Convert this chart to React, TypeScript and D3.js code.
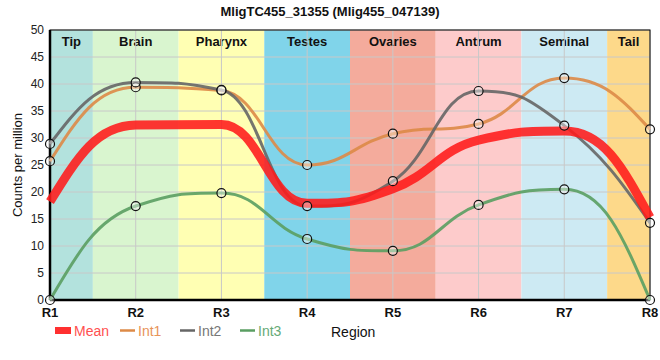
import * as d3 from "d3";

const regions = ["R1", "R2", "R3", "R4", "R5", "R6", "R7", "R8"];
const tissues = ["Tip", "Brain", "Pharynx", "Testes", "Ovaries", "Antrum", "Seminal", "Tail"];
const tissueColors = ["#b3e2dd", "#d9f5cf", "#ffffb3", "#80d4ea", "#f4ab9c", "#fdcbcb", "#cdeaf3", "#fdd98a"];

const int1 = [25.7, 39.4, 38.8, 25.0, 30.8, 32.6, 41.1, 31.6];
const int2 = [28.9, 40.3, 38.9, 17.4, 22.0, 38.7, 32.3, 14.3];
const int3 = [0, 17.4, 19.8, 11.3, 9.1, 17.6, 20.5, 0];
const mean = [18.2, 32.4, 32.5, 17.9, 20.6, 29.6, 31.3, 15.3];

const yTicks = [0, 5, 10, 15, 20, 25, 30, 35, 40, 45, 50];

const series = [
  { name: "Int1", values: int1, color: "#dd8a47", text: "#e8945a" },
  { name: "Int2", values: int2, color: "#666666", text: "#777777" },
  { name: "Int3", values: int3, color: "#5a9e62", text: "#66aa77" },
];

// spline with flattened extremes: long control arms, clamped at local extrema
class SmoothSpline {
  _context: any;
  _x: number[] = [];
  _y: number[] = [];
  constructor(context: any) {
    this._context = context;
  }
  areaStart() {}
  areaEnd() {}
  lineStart() {
    this._x = [];
    this._y = [];
  }
  point(x: number, y: number) {
    this._x.push(+x);
    this._y.push(+y);
  }
  lineEnd() {
    const xs = this._x;
    const ys = this._y;
    const n = xs.length;
    if (!n) return;
    const arm = 0.45;
    const lx: number[] = xs.slice();
    const ly: number[] = ys.slice();
    const rx: number[] = xs.slice();
    const ry: number[] = ys.slice();
    for (let i = 1; i < n - 1; i++) {
      const px = xs[i], py = ys[i];
      const ax = xs[i - 1], ay = ys[i - 1];
      const bx = xs[i + 1], by = ys[i + 1];
      const lcx = px + (ax - px) * arm;
      let lcy = py + (ay - py) * arm;
      const rcx = px + (bx - px) * arm;
      let rcy = py + (by - py) * arm;
      let corr = 0;
      if (rcx !== lcx) corr = ((rcy - lcy) * (rcx - px)) / (rcx - lcx) + py - rcy;
      lcy += corr;
      rcy += corr;
      if (lcy > ay && lcy > py) {
        lcy = Math.max(ay, py);
        rcy = 2 * py - lcy;
      } else if (lcy < ay && lcy < py) {
        lcy = Math.min(ay, py);
        rcy = 2 * py - lcy;
      }
      if (rcy > by && rcy > py) {
        rcy = Math.max(by, py);
        lcy = 2 * py - rcy;
      } else if (rcy < by && rcy < py) {
        rcy = Math.min(by, py);
        lcy = 2 * py - rcy;
      }
      lx[i] = lcx;
      ly[i] = lcy;
      rx[i] = rcx;
      ry[i] = rcy;
    }
    if (n > 2) {
      // end arms aim steeply at the neighbour's arm
      rx[0] = xs[0] + (xs[1] - xs[0]) * 0.33;
      ry[0] = ys[0] + (ly[1] - ys[0]) * 0.6;
      lx[n - 1] = xs[n - 1] - (xs[n - 1] - xs[n - 2]) * 0.33;
      ly[n - 1] = ys[n - 1] + (ry[n - 2] - ys[n - 1]) * 0.6;
    }
    this._context.moveTo(xs[0], ys[0]);
    for (let i = 1; i < n; i++) {
      this._context.bezierCurveTo(rx[i - 1], ry[i - 1], lx[i], ly[i], xs[i], ys[i]);
    }
  }
}
const curveSmooth = (context: any) => new SmoothSpline(context);

export default function App() {
  const width = 660;
  const height = 360;
  const margin = { top: 30, right: 10, bottom: 60, left: 50 };
  const innerWidth = width - margin.left - margin.right;
  const innerHeight = height - margin.top - margin.bottom;

  const x = d3.scalePoint<string>().domain(regions).range([0, innerWidth]);
  const y = d3.scaleLinear().domain([0, 50]).range([innerHeight, 0]);
  const step = x.step();

  const line = d3
    .line<number>()
    .x((_, i) => x(regions[i]) as number)
    .y((d) => y(d))
    .curve(curveSmooth as any);

  const font = "'Liberation Sans', Arial, sans-serif";

  return (
    <svg
      width={width}
      height={height}
      style={{ position: "absolute", left: 0, top: 0, fontFamily: font }}
    >
      <text x={width / 2} y={16} textAnchor="middle" fontSize={13} fontWeight="bold" fill="#111">
        MligTC455_31355 (Mlig455_047139)
      </text>
      <g transform={`translate(${margin.left}, ${margin.top})`}>
        {tissues.map((t, i) => {
          const cx = x(regions[i]) as number;
          const x0 = Math.max(0, cx - step / 2);
          const x1 = Math.min(innerWidth, cx + step / 2);
          return (
            <g key={t}>
              <rect x={x0} y={0} width={x1 - x0} height={innerHeight} fill={tissueColors[i]} />
              <text
                x={(x0 + x1) / 2}
                y={16}
                textAnchor="middle"
                fontSize={13}
                fontWeight="bold"
                fill="#111"
              >
                {t}
              </text>
            </g>
          );
        })}
        {yTicks.map((t) => (
          <g key={`y-${t}`}>
            <line x1={0} x2={innerWidth} y1={y(t)} y2={y(t)} stroke="#c8c8c8" strokeWidth={1} />
            <text x={-6} y={y(t) + 4} textAnchor="end" fontSize={12} fill="#222">
              {t}
            </text>
          </g>
        ))}
        {regions.map((r) => (
          <g key={`x-${r}`}>
            <line x1={x(r)} x2={x(r)} y1={0} y2={innerHeight} stroke="#c8c8c8" strokeWidth={1} />
            <text
              x={x(r)}
              y={innerHeight + 17}
              textAnchor="middle"
              fontSize={13}
              fontWeight="bold"
              fill="#111"
            >
              {r}
            </text>
          </g>
        ))}
        <rect x={0} y={0} width={innerWidth} height={innerHeight} fill="none" stroke="#000" strokeWidth={1} />
        <line x1={0} x2={0} y1={0} y2={innerHeight} stroke="#000" strokeWidth={2.5} />
        <line x1={0} x2={innerWidth} y1={innerHeight} y2={innerHeight} stroke="#000" strokeWidth={2.5} />

        {series.map((s) => (
          <path
            key={s.name}
            d={line(s.values) ?? ""}
            fill="none"
            stroke={s.color}
            strokeWidth={3}
            strokeOpacity={0.9}
          />
        ))}
        <path d={line(mean) ?? ""} fill="none" stroke="#ff1a1a" strokeWidth={9} strokeOpacity={0.88} />
        {series.map((s) =>
          s.values.map((v, i) => (
            <circle
              key={`${s.name}-${i}`}
              cx={x(regions[i])}
              cy={y(v)}
              r={4.5}
              fill="rgba(255,255,255,0.4)"
              stroke="#111"
              strokeWidth={1.2}
            />
          ))
        )}
      </g>

      <g transform={`translate(0, ${height - 30})`}>
        <rect x={55} y={-3} width={16} height={7} fill="#ff3030" />
        <text x={74} y={6} fontSize={14} fill="#ff5050">Mean</text>
        {series.map((s, i) => (
          <g key={`lg-${s.name}`} transform={`translate(${120 + i * 60}, 0)`}>
            <line x1={0} x2={15} y1={0.5} y2={0.5} stroke={s.color} strokeWidth={2.5} />
            <text x={18} y={6} fontSize={14} fill={s.text}>
              {s.name}
            </text>
          </g>
        ))}
        <text x={331} y={7} fontSize={14} fill="#111">Region</text>
      </g>
      <text
        transform={`translate(22, ${margin.top + innerHeight / 2}) rotate(-90)`}
        textAnchor="middle"
        fontSize={13}
        fill="#111"
      >
        Counts per million
      </text>
    </svg>
  );
}
